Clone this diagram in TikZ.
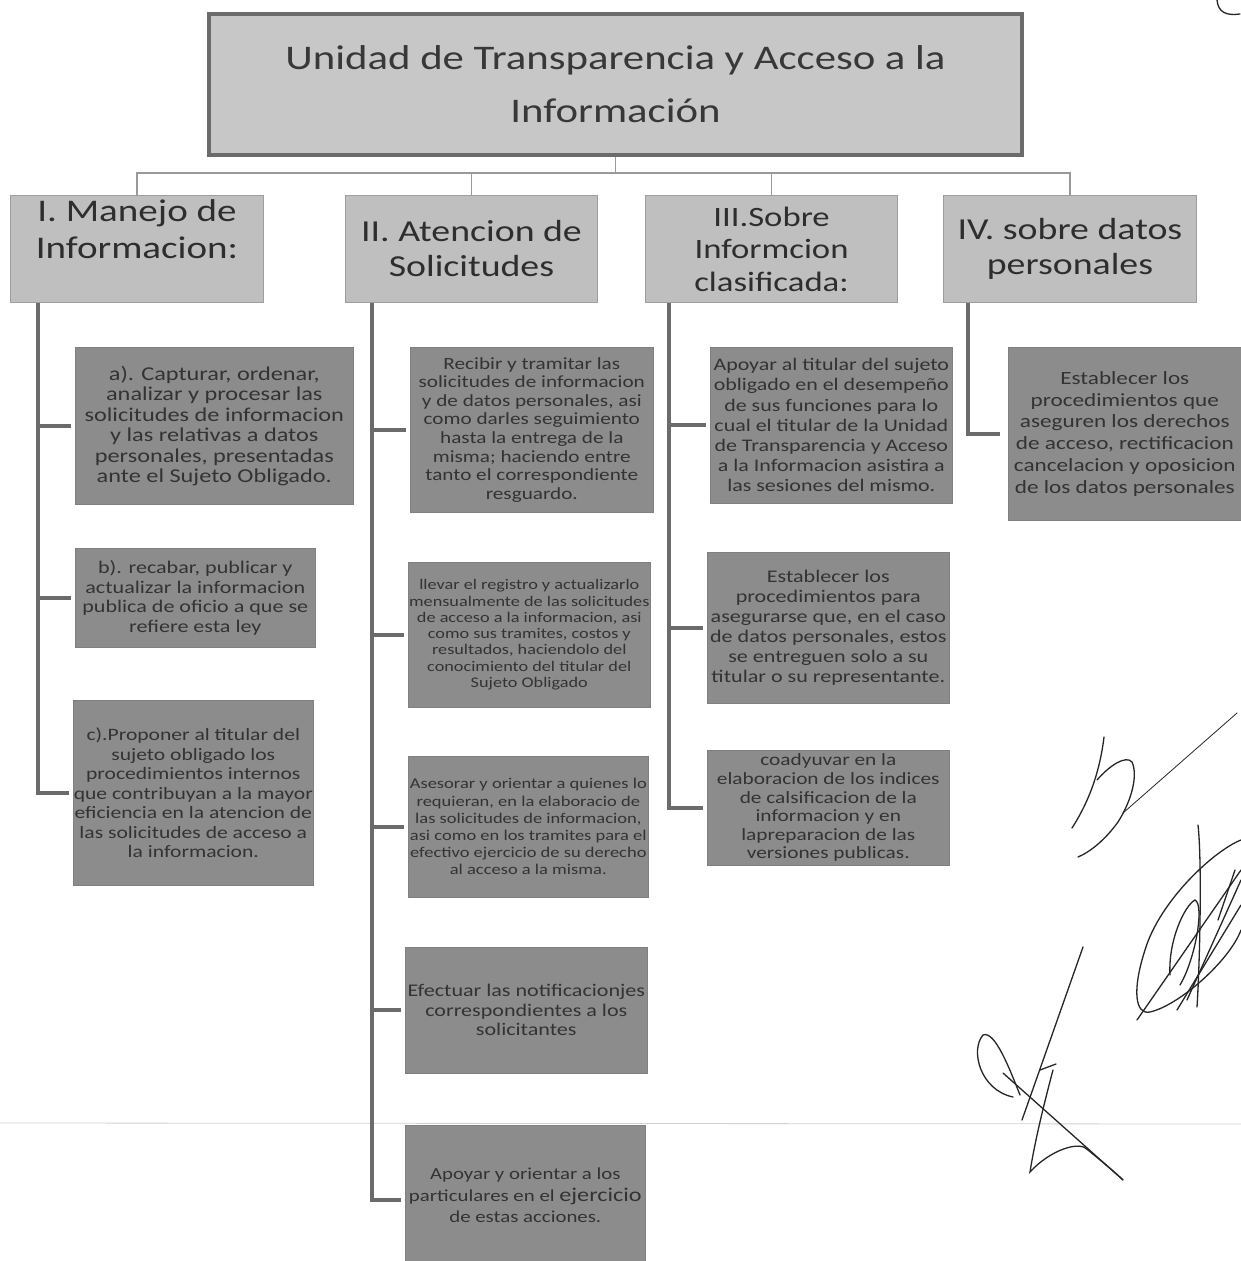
\documentclass[tikz,border=0pt]{standalone}
\usepackage{fontspec}
\setmainfont{Carlito}[FakeStretch=1.24]
\begin{document}
\begin{tikzpicture}[x=1pt,y=-1pt,
  mainbox/.style={draw=black!58, line width=4pt, fill=black!22, text=black!78, anchor=north west, inner sep=0pt, align=center},
  catbox/.style={draw=black!38, line width=1pt, fill=black!25, text=black!82, anchor=north west, inner sep=0pt, align=center},
  itembox/.style={draw=black!50, line width=0.6pt, fill=black!45, text=black!80, anchor=north west, inner sep=0pt, align=center},
  bus/.style={draw=black!40, line width=1.6pt},
  spine/.style={draw=black!58, line width=4pt, shorten >=4pt},
  sig/.style={draw=black!85, line width=1.3pt, line cap=round},
]
\useasboundingbox[fill=white] (0,0) rectangle (1241,1261);
% scan line
\draw[black!18, line width=0.8pt] (0,1123) -- (1241,1124);

% main box
\node[mainbox, minimum width=813, minimum height=141, font=\fontsize{34.5}{53}\selectfont] (m) at (207,12)
  {Unidad de Transparencia y Acceso a la\\Información};

% category boxes
\node[catbox, minimum width=253, minimum height=107, font=\fontsize{31.5}{37}\selectfont] (c1) at (10,195)
  {I. Manejo de\\Informacion:\\[2pt]};
\node[catbox, minimum width=252, minimum height=107, font=\fontsize{30.5}{35}\selectfont] (c2) at (345,195)
  {II. Atencion de\\Solicitudes};
\node[catbox, minimum width=252, minimum height=107, font=\fontsize{28}{32.5}\selectfont] (c3) at (645,195)
  {III.Sobre\\Informcion\\clasificada:};
\node[catbox, minimum width=253, minimum height=107, font=\fontsize{30.5}{35}\selectfont] (c4) at (943,195)
  {IV. sobre datos\\personales};

% bus connectors
\coordinate (bus) at (617,173);
\draw[bus] (m.south) -- (m.south|-bus);
\draw[bus] (m.south|-bus) -| (c1.north);
\draw[bus] (m.south|-bus) -| (c2.north);
\draw[bus] (m.south|-bus) -| (c3.north);
\draw[bus] (m.south|-bus) -| (c4.north);

% column I
\node[itembox, minimum width=278, minimum height=157, font=\fontsize{19.6}{20.5}\selectfont] (a1) at (75,347)
  {a). Capturar, ordenar,\\analizar y procesar las\\solicitudes de informacion\\y las relativas a datos\\personales, presentadas\\ante el Sujeto Obligado.};
\node[itembox, minimum width=240, minimum height=99, font=\fontsize{17.8}{19.5}\selectfont] (a2) at (75,548)
  {b). recabar, publicar y\\actualizar la informacion\\publica de oficio a que se\\refiere esta ley};
\node[itembox, minimum width=240, minimum height=185, font=\fontsize{17.4}{19.5}\selectfont] (a3) at (73,700)
  {c).Proponer al titular del\\sujeto obligado los\\procedimientos internos\\que contribuyan a la mayor\\eficiencia en la atencion de\\las solicitudes de acceso a\\la informacion.};

% column II
\node[itembox, minimum width=243, minimum height=165, font=\fontsize{17.1}{18.6}\selectfont] (b1) at (410,347)
  {Recibir y tramitar las\\solicitudes de informacion\\y de datos personales, asi\\como darles seguimiento\\hasta la entrega de la\\misma; haciendo entre\\tanto el correspondiente\\resguardo.};
\node[itembox, minimum width=242, minimum height=145, font=\fontsize{14.7}{16.3}\selectfont] (b2) at (408,562)
  {llevar el registro y actualizarlo\\mensualmente de las solicitudes\\de acceso a la informacion, asi\\como sus tramites, costos y\\resultados, haciendolo del\\conocimiento del titular del\\Sujeto Obligado};
\node[itembox, minimum width=240, minimum height=141, font=\fontsize{14.9}{17.2}\selectfont] (b3) at (408,756)
  {Asesorar y orientar a quienes lo\\requieran, en la elaboracio de\\las solicitudes de informacion,\\asi como en los tramites para el\\efectivo ejercicio de su derecho\\al acceso a la misma.};
\node[itembox, minimum width=242, minimum height=126, font=\fontsize{17.8}{19.5}\selectfont] (b4) at (405,947)
  {Efectuar las notificacionjes\\correspondientes a los\\solicitantes};
\node[itembox, minimum width=240, minimum height=140, font=\fontsize{16.8}{21.5}\selectfont] (b5) at (405,1125)
  {Apoyar y orientar a los\\particulares en el {\fontsize{19.5}{21.5}\selectfont ejercicio}\\de estas acciones.};

% column III
\node[itembox, minimum width=242, minimum height=156, font=\fontsize{17.7}{20.2}\selectfont] (d1) at (710,347)
  {Apoyar al titular del sujeto\\obligado en el desempeño\\de sus funciones para lo\\cual el titular de la Unidad\\de Transparencia y Acceso\\a la Informacion asistira a\\las sesiones del mismo.};
\node[itembox, minimum width=242, minimum height=151, font=\fontsize{17.8}{20}\selectfont] (d2) at (707,552)
  {Establecer los\\procedimientos para\\asegurarse que, en el caso\\de datos personales, estos\\se entreguen solo a su\\titular o su representante.};
\node[itembox, minimum width=242, minimum height=115, font=\fontsize{17.2}{18.6}\selectfont] (d3) at (707,750)
  {coadyuvar en la\\elaboracion de los indices\\de calsificacion de la\\informacion y en\\lapreparacion de las\\versiones publicas.};

% column IV
\node[itembox, minimum width=233, minimum height=173, font=\fontsize{18.7}{21.7}\selectfont] (e1) at (1008,347)
  {Establecer los\\procedimientos que\\aseguren los derechos\\de acceso, rectificacion\\cancelacion y oposicion\\de los datos personales};

% spines
\coordinate (s1) at ([xshift=28pt]c1.south west);
\coordinate (s2) at ([xshift=27pt]c2.south west);
\coordinate (s3) at ([xshift=24pt]c3.south west);
\coordinate (s4) at ([xshift=25pt]c4.south west);
\draw[spine] (s1) |- (a1.west);
\draw[spine] (s1) |- (a2.west);
\draw[spine] (s1) |- (a3.west);
\draw[spine] (s2) |- (b1.west);
\draw[spine] (s2) |- (b2.west);
\draw[spine] (s2) |- (b3.west);
\draw[spine] (s2) |- (b4.west);
\draw[spine] (s2) |- ([yshift=-5pt]b5.west);
\draw[spine] (s3) |- (d1.west);
\draw[spine] (s3) |- (d2.west);
\draw[spine] (s3) |- (d3.west);
\draw[spine, shorten >=8pt] (s4) |- (e1.west);

% handwritten marks
\draw[sig] (1217,0) .. controls (1218,12) and (1226,16) .. (1240,14);
\draw[sig] (1104,737) .. controls (1100,770) and (1090,800) .. (1072,828);
\draw[sig] (1097,780) .. controls (1110,765) and (1126,755) .. (1132,762) .. controls (1138,775) and (1132,800) .. (1118,822) .. controls (1105,840) and (1090,852) .. (1078,857);
\draw[sig, line width=0.8pt] (1123,813) -- (1237,713);
\draw[sig] (1241,840) .. controls (1215,850) and (1160,900) .. (1145,950) .. controls (1132,990) and (1135,1015) .. (1150,1012) .. controls (1180,1005) and (1230,960) .. (1241,930);
\draw[sig] (1198,825) .. controls (1202,860) and (1200,960) .. (1197,1007);
\draw[sig] (1187,1000) -- (1241,880);
\draw[sig] (1177,1010) -- (1241,905);
\draw[sig] (1137,1020) -- (1241,870);
\draw[sig] (1170,975) .. controls (1168,940) and (1185,905) .. (1195,900) .. controls (1205,905) and (1195,960) .. (1180,985);
\draw[sig] (1218,920) -- (1235,870);
\draw[sig] (1083,947) -- (1022,1120);
\draw[sig] (1013,1097) .. controls (980,1090) and (970,1050) .. (983,1035) .. controls (995,1030) and (1010,1070) .. (1020,1095);
\draw[sig] (1053,1070) .. controls (1045,1100) and (1035,1140) .. (1030,1172) .. controls (1050,1150) and (1080,1140) .. (1088,1150) .. controls (1100,1160) and (1115,1172) .. (1123,1180);
\draw[sig] (1003,1073) -- (1123,1180);
\draw[sig] (1040,1070) -- (1056,1064);
\end{tikzpicture}
\end{document}
